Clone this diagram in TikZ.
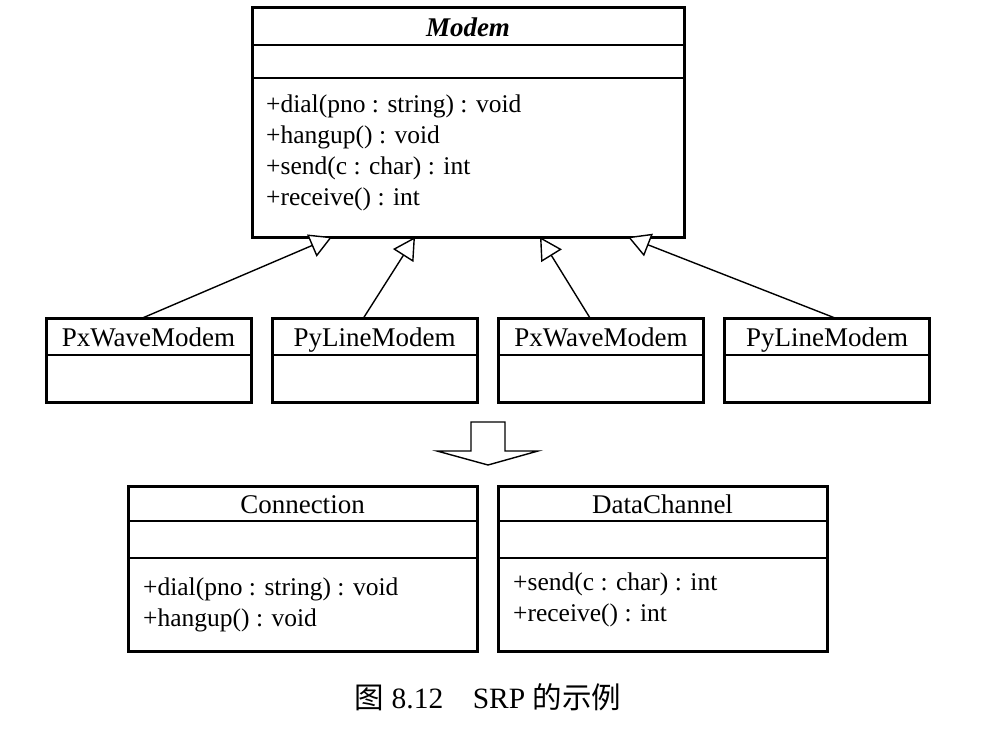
\documentclass[tikz,border=0pt]{standalone}
\usepackage{fontspec}
\setmainfont{Liberation Serif}
\newfontfamily\cjk{Noto Sans CJK SC}
\usetikzlibrary{arrows.meta,positioning,calc}

\tikzset{
  part/.style={draw=black,line width=2pt,inner sep=0pt,outer sep=0pt,
               text height=22pt,text depth=2pt,
               font=\fontsize{27}{31}\selectfont},
  ops/.style={inner sep=0pt,align=left,font=\fontsize{25.5}{31}\selectfont},
  frame/.style={draw=black,line width=3pt,line join=miter},
  gen/.style={line width=1.4pt,-{Triangle[open,length=22pt,width=24pt,fill=white]}}
}

\begin{document}
\begin{tikzpicture}[x=1pt,y=-1pt]
  \useasboundingbox (0,0) rectangle (983,733);

  % abstract modem class
  \node[part,minimum width=432pt,minimum height=37pt] (modem-t) at (468,26.5) {\textbf{\textit{Modem}}};
  \node[part,minimum width=432pt,minimum height=33pt,below=0pt of modem-t] (modem-a) {};
  \node[part,minimum width=432pt,minimum height=159pt,below=0pt of modem-a] (modem-o) {};
  \node[ops,anchor=north west] (modem-m) at ($(modem-o.north west)+(14,17)$)
    {+dial(pno : string) : void\\+hangup() : void\\+send(c : char) : int\\+receive() : int};
  \draw[frame] (modem-t.north west) rectangle (modem-o.south east);

  % the four subclasses
  \foreach \n/\x/\t in {pxa/148.5/PxWaveModem, pya/374.5/PyLineModem,
                        pxb/601/PxWaveModem, pyb/827/PyLineModem}{
    \node[part,minimum width=205pt,minimum height=37pt] (\n-t) at (\x,336.5) {\t};
    \node[part,minimum width=205pt,minimum height=47pt,below=0pt of \n-t] (\n-a) {};
    \draw[frame] (\n-t.north west) rectangle (\n-a.south east);
  }

  % generalisation
  \draw[gen] ($(pxa-t.north)+(-6,0)$)  -- ($(modem-o.south)+(-136,0)$);
  \draw[gen] ($(pya-t.north)+(-11,0)$) -- ($(modem-o.south)+(-53,0)$);
  \draw[gen] ($(pxb-t.north)+(-11,0)$) -- ($(modem-o.south)+(72,0)$);
  \draw[gen] ($(pyb-t.north)+(8,0)$)   -- ($(modem-o.south)+(160,0)$);

  % refactoring arrow
  \draw[line width=1.4pt,line join=miter]
    (471,422) -- (505,422) -- (505,451) -- (538,451) -- (488,465)
    -- (437,451) -- (471,451) -- cycle;

  % split classes
  \node[part,minimum width=349pt,minimum height=35pt] (conn-t) at (302.5,503.5) {Connection};
  \node[part,minimum width=349pt,minimum height=37pt,below=0pt of conn-t] (conn-a) {};
  \node[part,minimum width=349pt,minimum height=93pt,below=0pt of conn-a] (conn-o) {};
  \node[ops,anchor=north west] (conn-m) at ($(conn-o.north west)+(15,20)$)
    {+dial(pno : string) : void\\+hangup() : void};
  \draw[frame] (conn-t.north west) rectangle (conn-o.south east);

  \node[part,minimum width=329pt,minimum height=35pt] (chan-t) at (662.5,503.5) {DataChannel};
  \node[part,minimum width=329pt,minimum height=37pt,below=0pt of chan-t] (chan-a) {};
  \node[part,minimum width=329pt,minimum height=93pt,below=0pt of chan-a] (chan-o) {};
  \node[ops,anchor=north west] (chan-m) at ($(chan-o.north west)+(15,15)$)
    {+send(c : char) : int\\+receive() : int};
  \draw[frame] (chan-t.north west) rectangle (chan-o.south east);

  \node[font=\fontsize{29.5}{32}\selectfont] (caption) at (488,697)
    {{\cjk 图} 8.12\hspace{1em}SRP {\cjk 的示例}};
\end{tikzpicture}
\end{document}
